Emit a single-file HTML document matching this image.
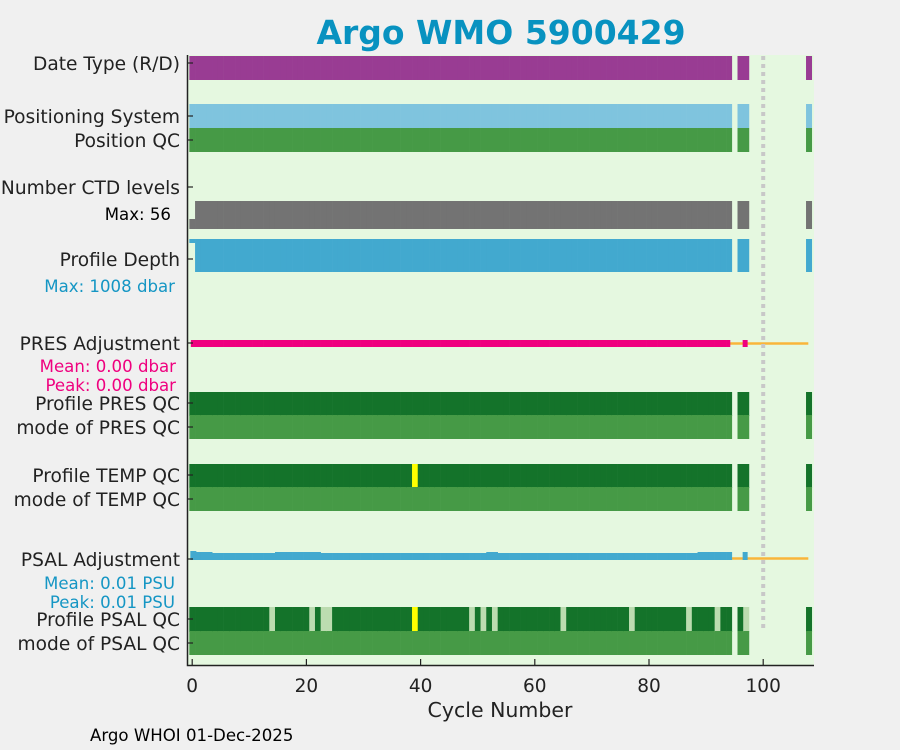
<!DOCTYPE html>
<html><head><meta charset="utf-8"><style>
body{margin:0;background:#f0f0f0;}
svg{display:block;font-family:"DejaVu Sans","Liberation Sans",sans-serif;}
</style></head><body>
<svg id="chart" width="900" height="750" viewBox="0 0 900 750">
<rect width="900" height="750" fill="#f0f0f0"/>
<text x="501" y="44" text-anchor="middle" font-size="33" font-weight="bold" fill="#0892c0">Argo WMO 5900429</text>
<rect x="187.5" y="55" width="626.5" height="610" fill="#e5f8e0"/>
<g id="marks"></g>
<g id="labels" font-size="18.6" fill="#222" text-anchor="end"></g>
<text x="500" y="717" text-anchor="middle" font-size="20.5" fill="#222">Cycle Number</text>
<text x="90" y="741" font-size="16.6" fill="#000">Argo WHOI 01-Dec-2025</text>
</svg>
<script>
const cycles = [];
for (let c = 0; c <= 94; c++) cycles.push(c);
cycles.push(96, 97, 108);
const xTicks = [0, 20, 40, 60, 80, 100];
const psalLightCycles = [14, 21, 23, 24, 49, 51, 53, 65, 77, 87, 92, 97];
const yellowCycles = [39];
const rowLabels = [
  ["Date Type (R/D)", 63], ["Positioning System", 116], ["Position QC", 140],
  ["Number CTD levels", 187], ["Profile Depth", 259], ["PRES Adjustment", 343],
  ["Profile PRES QC", 403], ["mode of PRES QC", 427], ["Profile TEMP QC", 475],
  ["mode of TEMP QC", 499], ["PSAL Adjustment", 559], ["Profile PSAL QC", 619], ["mode of PSAL QC", 643]
];
const psalAdjOffsets = [2,1,1,1,0,0,0,0,0,0,0,0,0,0,0,1,1,1,1,1,1,1,1,0,0,0,0,0,0,0,0,0,0,0,0,0,0,0,0,0,0,0,0,0,0,0,0,0,0,0,0,0,1,1,0,0,0,0,0,0,0,0,0,0,0,0,0,0,0,0,0,0,0,0,0,0,0,0,0,0,0,0,0,0,0,0,0,0,0,1,1,1,1,1,1];

const NS = "http://www.w3.org/2000/svg";
const pxPer = 5.71, x0 = 192.2;
const X = c => x0 + c * pxPer;
const marks = document.getElementById("marks");
const labels = document.getElementById("labels");
function mk(tag, attrs, parent) {
  const e = document.createElementNS(NS, tag);
  for (const k in attrs) e.setAttribute(k, attrs[k]);
  (parent || marks).appendChild(e);
  return e;
}
function bar(c, y, h, fill, name) {
  const e = mk("rect", {x: X(c - 0.5), y: y, width: pxPer + 0.3, height: h, fill: fill});
  
  
}
cycles.forEach((c, i) => {
  bar(c, 56, 24, "#993c93", "date-type-bar");
  bar(c, 104, 24, "#7fc4de", "positioning-system-bar");
  bar(c, 128, 24, "#469a46", "position-qc-bar");
  if (c === 0) {
    bar(c, 219, 10, "#737373", "ctd-levels-bar");
    bar(c, 239, 4, "#42a9cf", "profile-depth-bar");
  } else {
    bar(c, 201, 28, "#737373", "ctd-levels-bar");
    bar(c, 239, 33, "#42a9cf", "profile-depth-bar");
  }
  bar(c, 392, 24, "#14732a", "pres-qc-bar");
  bar(c, 415, 24, "#469a46", "pres-mode-bar");
  bar(c, 464, 24, yellowCycles.includes(c) ? "#ffff00" : "#14732a", "temp-qc-bar");
  bar(c, 487, 24, "#469a46", "temp-mode-bar");
  let pc = "#14732a";
  if (psalLightCycles.includes(c)) pc = "#bcdcb0";
  if (yellowCycles.includes(c)) pc = "#ffff00";
  bar(c, 607, 25, pc, "psal-qc-bar");
  bar(c, 631, 24, "#469a46", "psal-mode-bar");
});
let o1 = mk("line", {x1: X(94), x2: X(107.9), y1: 343.5, y2: 343.5, stroke: "#f9b53a", "stroke-width": 2.5});


let o2 = mk("line", {x1: X(94), x2: X(107.9), y1: 558.5, y2: 558.5, stroke: "#f9b53a", "stroke-width": 2.5});


cycles.forEach(c => {
  if (c > 94) return;
  let e = mk("rect", {x: X(c - 0.5) + (c === 0 ? 1.5 : 0), y: 340, width: c === 94 ? pxPer - 1.5 : pxPer + 0.3, height: 7, fill: "#ef007f"});
  
  
});
let pm = mk("rect", {x: X(96.4), y: 340, width: 5, height: 7, fill: "#ef007f"});


cycles.forEach((c, i) => {
  if (c > 94) return;
  const off = psalAdjOffsets[i] || 0;
  let e = mk("rect", {x: X(c - 0.5) + (c === 0 ? 1 : 0), y: 553 - off, width: pxPer + 0.3, height: 7 + off, fill: "#42a9cf"});
  
  
});
let ps = mk("rect", {x: X(96.4), y: 552, width: 5, height: 8, fill: "#42a9cf"});


let dv = mk("line", {x1: X(100), x2: X(100), y1: 56, y2: 628, stroke: "#c8c8c8", "stroke-width": 4, "stroke-dasharray": "4 4"});


let ax = mk("path", {d: "M187.5 55 V665.5 H814", fill: "none", stroke: "#222", "stroke-width": 1.5});


xTicks.forEach(t => {
  let tk = mk("line", {x1: X(t), x2: X(t), y1: 659, y2: 665, stroke: "#222", "stroke-width": 1.2});
  
  
  let tl = mk("text", {x: X(t), y: 692, "text-anchor": "middle", "font-size": 18.5, fill: "#222"});
  tl.textContent = t;
  
  
});
rowLabels.forEach(r => {
  let tk = mk("line", {x1: 187.5, x2: 193, y1: r[1], y2: r[1], stroke: "#222", "stroke-width": 1.2});
  
  
  let t = mk("text", {x: 180, y: r[1] + 7}, labels);
  t.textContent = r[0];
  
  
});
const notes = [["Max: 56", 171, 220, "#000", 16.6], ["Max: 1008 dbar", 175, 292, "#1596c4", 16.6],
  ["Mean: 0.00 dbar", 176, 372, "#ef007f", 16.6], ["Peak: 0.00 dbar", 176, 391, "#ef007f", 16.6],
  ["Mean: 0.01 PSU", 175, 589, "#1596c4", 16.6], ["Peak: 0.01 PSU", 175, 608, "#1596c4", 16.6]];
notes.forEach(n => {
  let t = mk("text", {x: n[1], y: n[2], "text-anchor": "end", "font-size": n[4], fill: n[3]});
  t.textContent = n[0];
  
  
});
</script>
</body></html>
